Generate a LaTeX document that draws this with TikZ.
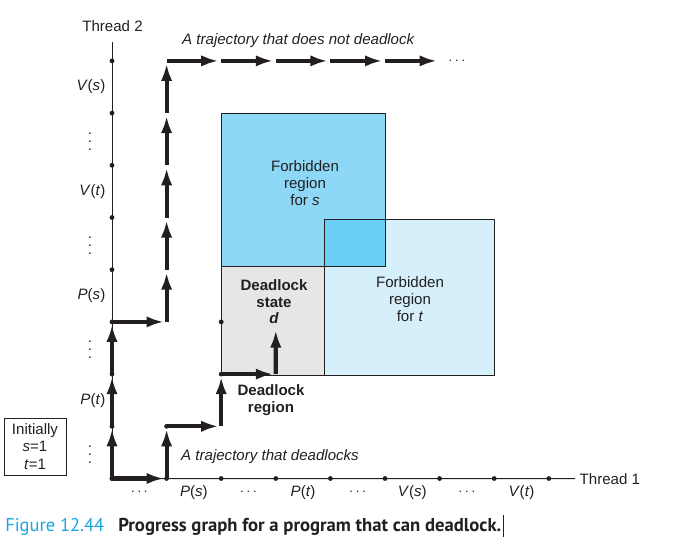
\documentclass[tikz,border=0pt]{standalone}
\usepackage{fontspec}
\setmainfont{Liberation Sans}
\newfontfamily\capfont{PT Sans}
\usetikzlibrary{arrows.meta}
\definecolor{ink}{RGB}{35,31,32}
\definecolor{regions}{RGB}{141,216,246}
\definecolor{regiont}{RGB}{214,240,251}
\definecolor{regionst}{RGB}{106,207,244}
\definecolor{deadgray}{RGB}{230,230,230}
\definecolor{figblue}{RGB}{24,166,226}
\newcommand{\opn}[2]{\textit{#1}(\textit{#2})}
\newcommand{\vdd}{\vbox{\baselineskip=6pt\lineskiplimit=0pt\hbox{.}\hbox{.}\hbox{.}}}
\tikzset{
  traj/.style={-{Latex[length=13pt,width=8.5pt]},line width=3.1pt,shorten >=2pt,ink},
  lbl/.style={font=\fontsize{11.3}{13}\selectfont,text=ink},
  lblb/.style={font=\fontsize{11.3}{12.3}\selectfont\bfseries,text=ink},
  lbli/.style={font=\fontsize{11.3}{13}\selectfont\itshape,text=ink},
  region/.style={draw=ink,line width=0.75pt},
}
\begin{document}
\begin{tikzpicture}[x=0.75pt,y=-0.75pt]
	\useasboundingbox (0,0) rectangle (691,547);
	\pgfmathsetmacro{\xo}{112}
	\pgfmathsetmacro{\dx}{54.6}
	\pgfmathsetmacro{\yo}{478.5}
	\pgfmathsetmacro{\dy}{52.2}
	\foreach \i in {0,...,8}
		\foreach \j in {0,...,8}
			\coordinate (p\i\j) at ({\xo+\i*\dx},{\yo-\j*\dy});
	% forbidden regions
	\fill[regions] (221,113) rectangle (385.5,266);
	\fill[regiont] (324,219) rectangle (494.5,375);
	\fill[regionst] (324,219) rectangle (385.5,266);
	\fill[deadgray] (221,266) rectangle (324,375);
	\draw[region] (221,113) rectangle (385.5,266);
	\draw[region] (324,219) rectangle (494.5,375);
	\draw[region] (221,266) -- (221,375) -- (324,375);
	\node[lbl,align=center] (fs) at (305,183) {Forbidden\\region\\for \textit{s}};
	\node[lbl,align=center] (ft) at (410,299) {Forbidden\\region\\for \textit{t}};
	\node[lblb,align=center] (ds) at (274,302) {Deadlock\\state\\\textit{d}};
	\node[lblb,align=center] (dr) at (271,400) {Deadlock\\region};
	% axes
	\node[lbl,anchor=base] (thr2) at (112.5,31) {Thread 2};
	\node[lbl,anchor=base west] (thr1) at (575,484) {Thread 1};
	\coordinate (ytop) at (112,42);
	\draw[ink,line width=0.75pt] (p00) -- (ytop);
	\draw[ink,line width=0.75pt] (p00) -- (thr1);
	\foreach \k/\lab in {1/{\opn{P}{t}},3/{\opn{P}{s}},5/{\opn{V}{t}},7/{\opn{V}{s}}}
		\node[lbl,anchor=east] (ylab\k) at (110,{\yo-(\k+0.5)*\dy}) {\lab};
	\foreach \k in {0,2,4,6}
		\node[lbl,inner sep=0pt] (ydots\k) at (90,{\yo-(\k+0.5)*\dy+2}) {\vdd};
	\foreach \k/\lab in {1/{\opn{P}{s}},3/{\opn{P}{t}},5/{\opn{V}{s}},7/{\opn{V}{t}}}
		\node[lbl] (xlab\k) at ({\xo+(\k+0.5)*\dx},493) {\lab};
	\foreach \k in {0,2,4,6}
		\node[lbl,inner sep=0pt] (xdots\k) at ({\xo+(\k+0.5)*\dx},492) {$\cdots$};
	% trajectories
	\foreach \a/\b in {00/10,10/11,11/21,21/22,22/32}
		\draw[traj] (p\a) -- (p\b);
	\coordinate (dend) at (275.8,327.5);
	\draw[traj] (p32) -- (dend);
	\foreach \a/\b in {00/01,01/02,02/03,03/13,13/14,14/15,15/16,16/17,17/18,18/28,28/38,38/48,48/58,58/68}
		\draw[traj] (p\a) -- (p\b);
	\node[lbl,inner sep=0pt] (more) at (457,61) {$\cdots$};
	\node[lbli,anchor=base west] (nodl) at (177.5,44) {A trajectory that does not deadlock};
	\node[lbli,anchor=base west] (dl) at (176.5,460) {A trajectory that deadlocks};
	% ticks
	\foreach \i in {0,...,8} {
		\fill[ink] (p\i0) circle (1.8pt);
		\fill[ink] (p0\i) circle (1.8pt);
	}
	\foreach \p in {11,22,23}
		\fill[ink] (p\p) circle (1.8pt);
	% initial values
	\node[lbl,draw=ink,line width=0.75pt,align=center,minimum width=46.5pt,minimum height=42.75pt,inner sep=0pt] (init) at (35,446.5) {Initially\\\textit{s}=1\\\textit{t}=1};
	% caption
	\node[anchor=base west,inner sep=0pt,font=\capfont\fontsize{13.8}{16}\selectfont,text=figblue] (fig) at (5,531) {Figure 12.44};
	\node[anchor=base west,inner sep=0pt,font=\capfont\bfseries\fontsize{14}{16}\selectfont,text=ink] (cap) at (118,531) {Progress graph for a program that can deadlock.};
	\draw[ink,line width=0.6pt] ([xshift=1pt]cap.east |- 0,515) -- ([xshift=1pt]cap.east |- 0,537);
\end{tikzpicture}
\end{document}
